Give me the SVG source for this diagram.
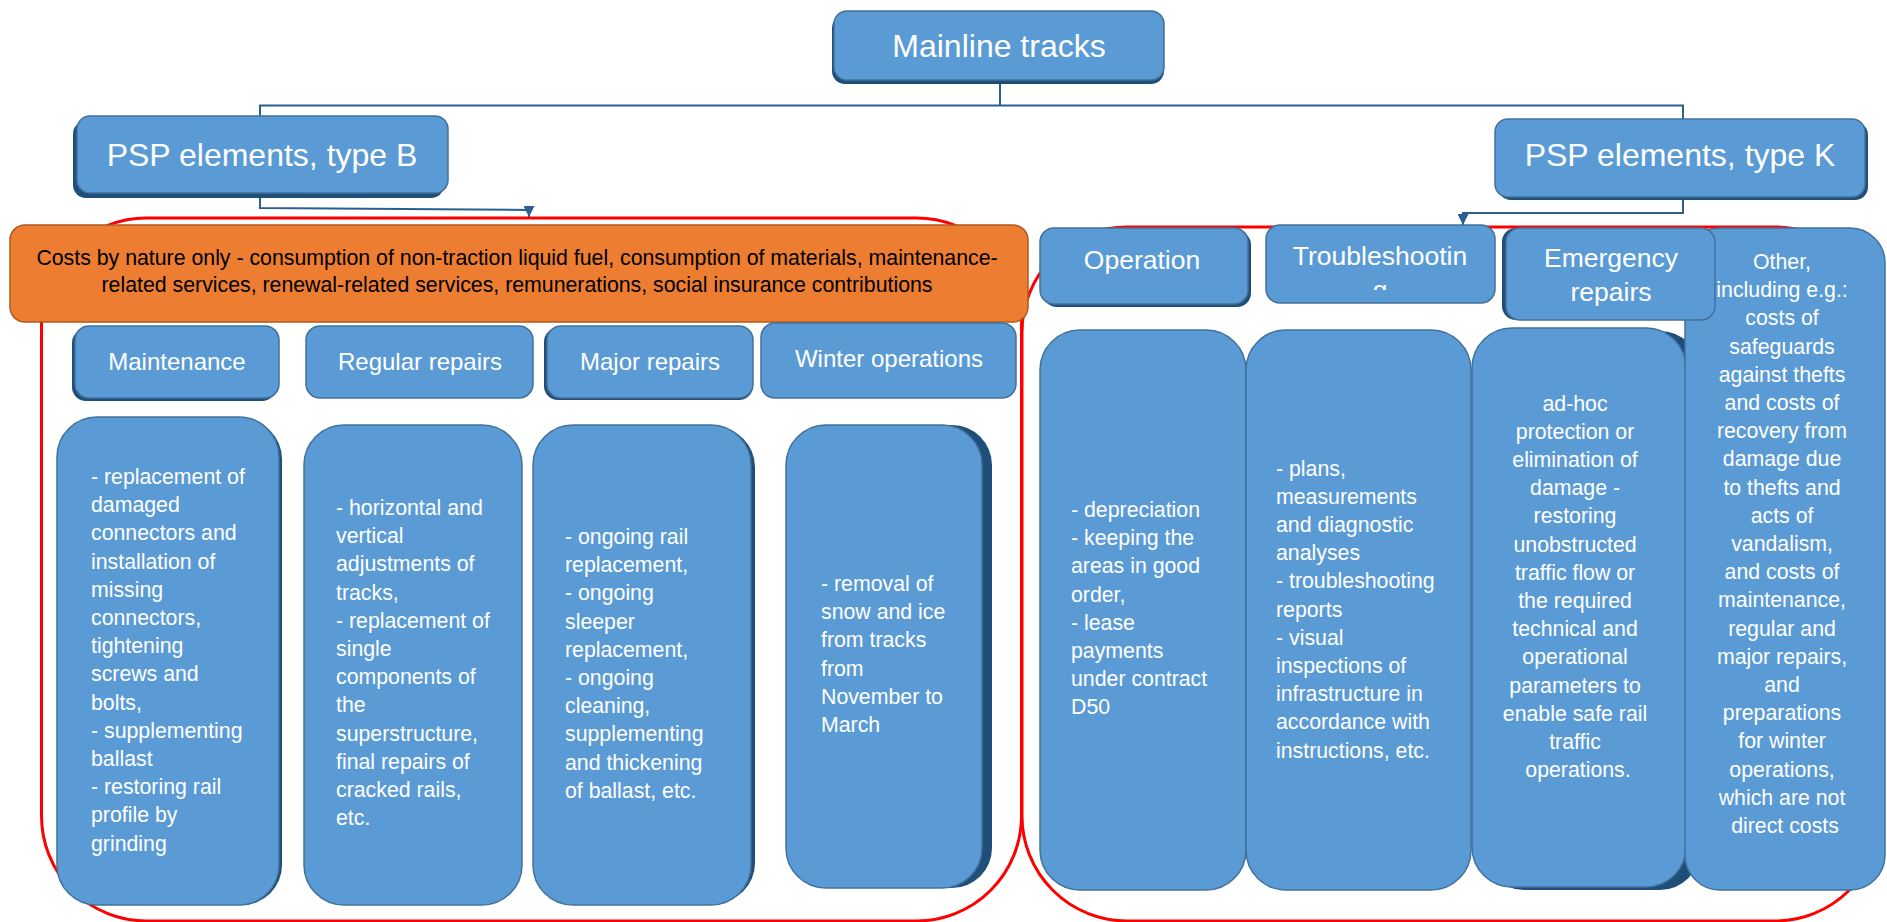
<svg xmlns="http://www.w3.org/2000/svg" width="1887" height="922" viewBox="0 0 1887 922">
<defs>
<style>
.box{fill:#5B9BD5;stroke:#41719C;stroke-width:1.5}
.sh{fill:#1F4E79}
.org{fill:#ED7D31;stroke:#AE5A21;stroke-width:1.5}
.red{fill:none;stroke:#FF0000;stroke-width:3}
.con{fill:none;stroke:#2A5F8F;stroke-width:2}
.t{font-family:"Liberation Sans",Arial,Helvetica,sans-serif;fill:#FFFFFF}
.top{font-size:32px;text-anchor:middle}
.hl{font-size:24px;text-anchor:middle}
.hr{font-size:26.5px;text-anchor:middle}
.b{font-size:21.3px}
.c{text-anchor:middle}
.o{font-family:"Liberation Sans",Arial,Helvetica,sans-serif;fill:#000000;font-size:21.3px;text-anchor:middle}
</style>
<marker id="arr" viewBox="0 0 10 10" refX="10" refY="5" markerWidth="11" markerHeight="11" markerUnits="userSpaceOnUse" orient="auto">
<path d="M0,0 L10,5 L0,10 z" fill="#2A5F8F"/>
</marker>
<clipPath id="clipTr"><rect x="1266" y="225" width="229" height="65"/></clipPath>
</defs>
<rect width="1887" height="922" fill="#FFFFFF"/>

<g id="containers">
<rect class="red" x="41.5" y="218" width="980" height="703" rx="105" ry="105"/>
<rect class="red" x="1022" y="227" width="858" height="694" rx="105" ry="105"/>
</g>

<g id="connectors">
<path class="con" d="M1000,83 V105.5"/>
<path class="con" d="M260,116 V105.5 H1683 V119"/>
<path class="con" d="M260,197 V208 L529,210 V217" marker-end="url(#arr)"/>
<path class="con" d="M1683,200 V213 H1463 V225" marker-end="url(#arr)"/>
</g>

<g id="mainline">
<rect class="sh" x="832" y="15" width="332" height="69" rx="13"/>
<rect class="box" x="834" y="11" width="330" height="69" rx="13"/>
<text class="t top" x="999" y="57">Mainline tracks</text>
</g>

<g id="psp-b">
<rect class="sh" x="73" y="121" width="371" height="77" rx="13"/>
<rect class="box" x="77" y="116" width="371" height="77" rx="13"/>
<text class="t top" x="262" y="166">PSP elements, type B</text>
</g>

<g id="psp-k">
<rect class="sh" x="1498" y="122" width="370" height="78" rx="13"/>
<rect class="box" x="1495" y="119" width="370" height="78" rx="13"/>
<text class="t top" x="1680" y="166">PSP elements, type K</text>
</g>

<g id="costs-by-nature">
<rect class="org" x="10" y="225" width="1018" height="97" rx="15"/>
<text class="o" x="517" y="265">Costs by nature only - consumption of non-traction liquid fuel, consumption of materials, maintenance-</text>
<text class="o" x="517" y="292">related services, renewal-related services, remunerations, social insurance contributions</text>
</g>

<g id="maintenance">
<rect class="sh" x="72" y="329" width="204" height="72" rx="14"/>
<rect class="box" x="75" y="326" width="204" height="72" rx="14"/>
<text class="t hl" x="177" y="370">Maintenance</text>
</g>

<g id="regular-repairs">
<rect class="box" x="306" y="326" width="227" height="72" rx="14"/>
<text class="t hl" x="420" y="370">Regular repairs</text>
</g>

<g id="major-repairs">
<rect class="sh" x="544" y="328" width="209" height="72" rx="14"/>
<rect class="box" x="547" y="326" width="206" height="72" rx="14"/>
<text class="t hl" x="650" y="370">Major repairs</text>
</g>

<g id="winter-operations">
<rect class="box" x="761" y="323" width="255" height="75" rx="14"/>
<text class="t hl" x="889" y="367">Winter operations</text>
</g>

<g id="maintenance-details">
<rect class="sh" x="60" y="419" width="222" height="486" rx="40"/>
<rect class="box" x="57" y="417" width="222" height="488" rx="40"/>
<text class="t b" y="484">
<tspan x="91">- replacement of</tspan>
<tspan x="91" dy="28.2">damaged</tspan>
<tspan x="91" dy="28.2">connectors and</tspan>
<tspan x="91" dy="28.2">installation of</tspan>
<tspan x="91" dy="28.2">missing</tspan>
<tspan x="91" dy="28.2">connectors,</tspan>
<tspan x="91" dy="28.2">tightening</tspan>
<tspan x="91" dy="28.2">screws and</tspan>
<tspan x="91" dy="28.2">bolts,</tspan>
<tspan x="91" dy="28.2">- supplementing</tspan>
<tspan x="91" dy="28.2">ballast</tspan>
<tspan x="91" dy="28.2">- restoring rail</tspan>
<tspan x="91" dy="28.2">profile by</tspan>
<tspan x="91" dy="28.2">grinding</tspan>
</text>
</g>

<g id="regular-repairs-details">
<rect class="box" x="304" y="425" width="218" height="480" rx="40"/>
<text class="t b" y="515">
<tspan x="336">- horizontal and</tspan>
<tspan x="336" dy="28.2">vertical</tspan>
<tspan x="336" dy="28.2">adjustments of</tspan>
<tspan x="336" dy="28.2">tracks,</tspan>
<tspan x="336" dy="28.2">- replacement of</tspan>
<tspan x="336" dy="28.2">single</tspan>
<tspan x="336" dy="28.2">components of</tspan>
<tspan x="336" dy="28.2">the</tspan>
<tspan x="336" dy="28.2">superstructure,</tspan>
<tspan x="336" dy="28.2">final repairs of</tspan>
<tspan x="336" dy="28.2">cracked rails,</tspan>
<tspan x="336" dy="28.2">etc.</tspan>
</text>
</g>

<g id="major-repairs-details">
<rect class="sh" x="537" y="427" width="218" height="476" rx="40"/>
<rect class="box" x="533" y="425" width="218" height="480" rx="40"/>
<text class="t b" y="544">
<tspan x="565">- ongoing rail</tspan>
<tspan x="565" dy="28.2">replacement,</tspan>
<tspan x="565" dy="28.2">- ongoing</tspan>
<tspan x="565" dy="28.2">sleeper</tspan>
<tspan x="565" dy="28.2">replacement,</tspan>
<tspan x="565" dy="28.2">- ongoing</tspan>
<tspan x="565" dy="28.2">cleaning,</tspan>
<tspan x="565" dy="28.2">supplementing</tspan>
<tspan x="565" dy="28.2">and thickening</tspan>
<tspan x="565" dy="28.2">of ballast, etc.</tspan>
</text>
</g>

<g id="winter-operations-details">
<rect class="sh" x="795" y="425" width="197" height="463" rx="40"/>
<rect class="box" x="786" y="425" width="196" height="463" rx="40"/>
<text class="t b" y="591">
<tspan x="821">- removal of</tspan>
<tspan x="821" dy="28.2">snow and ice</tspan>
<tspan x="821" dy="28.2">from tracks</tspan>
<tspan x="821" dy="28.2">from</tspan>
<tspan x="821" dy="28.2">November to</tspan>
<tspan x="821" dy="28.2">March</tspan>
</text>
</g>

<g id="operation">
<rect class="sh" x="1043" y="231" width="208" height="76" rx="14"/>
<rect class="box" x="1040" y="228" width="208" height="76" rx="14"/>
<text class="t hr" x="1142" y="269">Operation</text>
</g>

<g id="operation-details">
<rect class="box" x="1040" y="330" width="206" height="560" rx="40"/>
<text class="t b" y="517">
<tspan x="1071">- depreciation</tspan>
<tspan x="1071" dy="28.2">- keeping the</tspan>
<tspan x="1071" dy="28.2">areas in good</tspan>
<tspan x="1071" dy="28.2">order,</tspan>
<tspan x="1071" dy="28.2">- lease</tspan>
<tspan x="1071" dy="28.2">payments</tspan>
<tspan x="1071" dy="28.2">under contract</tspan>
<tspan x="1071" dy="28.2">D50</tspan>
</text>
</g>

<g id="troubleshooting">
<rect class="box" x="1266" y="225" width="229" height="78" rx="14"/>
<text class="t hr" x="1380" y="265">Troubleshootin</text>
<text class="t hr" x="1380" y="299" clip-path="url(#clipTr)">g</text>
</g>

<g id="troubleshooting-details">
<rect class="box" x="1246" y="330" width="225" height="560" rx="40"/>
<text class="t b" y="475.5">
<tspan x="1276">- plans,</tspan>
<tspan x="1276" dy="28.2">measurements</tspan>
<tspan x="1276" dy="28.2">and diagnostic</tspan>
<tspan x="1276" dy="28.2">analyses</tspan>
<tspan x="1276" dy="28.2">- troubleshooting</tspan>
<tspan x="1276" dy="28.2">reports</tspan>
<tspan x="1276" dy="28.2">- visual</tspan>
<tspan x="1276" dy="28.2">inspections of</tspan>
<tspan x="1276" dy="28.2">infrastructure in</tspan>
<tspan x="1276" dy="28.2">accordance with</tspan>
<tspan x="1276" dy="28.2">instructions, etc.</tspan>
</text>
</g>

<g id="emergency-repairs-details">
<rect class="sh" x="1484" y="331" width="216" height="559" rx="40"/>
<rect class="box" x="1472" y="328" width="214" height="559" rx="40"/>
<text class="t b c" y="410.5">
<tspan x="1578">ad-hoc</tspan>
<tspan x="1578" dy="28.2">protection or</tspan>
<tspan x="1578" dy="28.2">elimination of</tspan>
<tspan x="1578" dy="28.2">damage -</tspan>
<tspan x="1578" dy="28.2">restoring</tspan>
<tspan x="1578" dy="28.2">unobstructed</tspan>
<tspan x="1578" dy="28.2">traffic flow or</tspan>
<tspan x="1578" dy="28.2">the required</tspan>
<tspan x="1578" dy="28.2">technical and</tspan>
<tspan x="1578" dy="28.2">operational</tspan>
<tspan x="1578" dy="28.2">parameters to</tspan>
<tspan x="1578" dy="28.2">enable safe rail</tspan>
<tspan x="1578" dy="28.2">traffic</tspan>
<tspan x="1578" dy="28.2">operations.</tspan>
</text>
</g>

<g id="other">
<rect class="box" x="1685" y="228" width="200" height="662" rx="35"/>
<text class="t b c" y="269">
<tspan x="1785">Other,</tspan>
<tspan x="1785" dy="28.2">including e.g.:</tspan>
<tspan x="1785" dy="28.2">costs of</tspan>
<tspan x="1785" dy="28.2">safeguards</tspan>
<tspan x="1785" dy="28.2">against thefts</tspan>
<tspan x="1785" dy="28.2">and costs of</tspan>
<tspan x="1785" dy="28.2">recovery from</tspan>
<tspan x="1785" dy="28.2">damage due</tspan>
<tspan x="1785" dy="28.2">to thefts and</tspan>
<tspan x="1785" dy="28.2">acts of</tspan>
<tspan x="1785" dy="28.2">vandalism,</tspan>
<tspan x="1785" dy="28.2">and costs of</tspan>
<tspan x="1785" dy="28.2">maintenance,</tspan>
<tspan x="1785" dy="28.2">regular and</tspan>
<tspan x="1785" dy="28.2">major repairs,</tspan>
<tspan x="1785" dy="28.2">and</tspan>
<tspan x="1785" dy="28.2">preparations</tspan>
<tspan x="1785" dy="28.2">for winter</tspan>
<tspan x="1785" dy="28.2">operations,</tspan>
<tspan x="1785" dy="28.2">which are not</tspan>
<tspan x="1785" dy="28.2">direct costs</tspan>
</text>
</g>

<g id="emergency-repairs">
<rect class="sh" x="1502" y="228" width="209" height="92" rx="14"/>
<rect class="box" x="1506" y="228" width="209" height="92" rx="14"/>
<text class="t hr" x="1611" y="267">Emergency</text>
<text class="t hr" x="1611" y="301">repairs</text>
</g>
</svg>
